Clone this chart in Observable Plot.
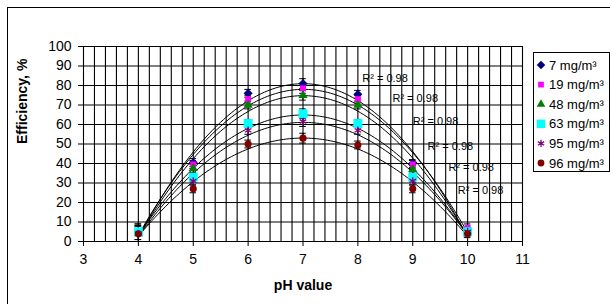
<!DOCTYPE html>
<html>
<head>
<meta charset="utf-8">
<script src="https://cdn.jsdelivr.net/npm/d3@7"></script>
<script src="https://cdn.jsdelivr.net/npm/@observablehq/plot@0.6"></script>
<style>
  html, body { margin: 0; padding: 0; background: #fff; }
  #chart { width: 610px; height: 304px; }
</style>
</head>
<body>
<div id="chart"></div>
<script>
// ---- data ----
const pH = [4, 5, 6, 7, 8, 9, 10];
const seriesNames = ["7 mg/m³", "19 mg/m³", "48 mg/m³", "63 mg/m³", "95 mg/m³", "96 mg/m³"];
const eff7  = [4, 40.5, 76, 81, 75.5, 40, 5];
const eff19 = [5, 39.5, 73, 78.5, 73, 39.5, 7];
const eff48 = [4, 37.5, 70, 75, 70, 37, 5];
const eff63 = [5, 33, 60.5, 65.5, 60.5, 33, 5];
const eff95 = [4, 31, 57, 61.5, 57, 31, 5];
const eff96 = [4, 27, 50, 53, 49.5, 27, 4];
const errs  = [4, 2, 2, 2.5, 2, 2, 2];
const r2Labels = ["R² = 0.98", "R² = 0.98", "R² = 0.98", "R² = 0.98", "R² = 0.98", "R² = 0.98"];
const r2X = [8.08, 8.63, 9.0, 9.27, 9.65, 9.82];
const r2Y = [83.6, 73.3, 61.5, 48.7, 37.9, 26.2];
const xTicks = [3, 4, 5, 6, 7, 8, 9, 10, 11];
const yTicks = [0, 10, 20, 30, 40, 50, 60, 70, 80, 90, 100];

// ---- styles ----
const diamondSym = {draw(ctx, size) { const r = Math.sqrt(size / 2); ctx.moveTo(0, -r); ctx.lineTo(r, 0); ctx.lineTo(0, r); ctx.lineTo(-r, 0); ctx.closePath(); }};
const colors = ["#000080", "#ff00ff", "#008000", "#00ffff", "#800080", "#800000"];
const symbols = [diamondSym, d3.symbolSquare, d3.symbolTriangle, d3.symbolSquare, d3.symbolAsterisk, d3.symbolCircle];
const sizes = [40, 36, 36, 80, 40, 40];

const allSeries = [eff7, eff19, eff48, eff63, eff95, eff96];
const points = [];
allSeries.forEach((vals, s) => vals.forEach((v, i) => points.push({s, name: seriesNames[s], x: pH[i], y: v, e: errs[i]})));

// quadratic least-squares trendlines (as the spreadsheet does)
function quadFit(xs, ys) {
  let n = xs.length, S = [0,0,0,0,0], T = [0,0,0];
  for (let i = 0; i < n; i++) {
    const x = xs[i], y = ys[i];
    for (let k = 0; k < 5; k++) S[k] += Math.pow(x, k);
    for (let k = 0; k < 3; k++) T[k] += y * Math.pow(x, k);
  }
  const A = [[S[0], S[1], S[2], T[0]], [S[1], S[2], S[3], T[1]], [S[2], S[3], S[4], T[2]]];
  for (let c = 0; c < 3; c++) {
    for (let r = c + 1; r < 3; r++) {
      const f = A[r][c] / A[c][c];
      for (let k = c; k < 4; k++) A[r][k] -= f * A[c][k];
    }
  }
  const b = [0,0,0];
  for (let r = 2; r >= 0; r--) {
    let s = A[r][3];
    for (let k = r + 1; k < 3; k++) s -= A[r][k] * b[k];
    b[r] = s / A[r][r];
  }
  return x => b[0] + b[1] * x + b[2] * x * x;
}
const curves = [];
allSeries.forEach((vals, s) => {
  const f = quadFit(pH, vals);
  for (let x = pH[0]; x <= pH[pH.length - 1] + 1e-9; x += 0.05) curves.push({s, x, y: f(x)});
});
const labels = r2Labels.map((t, i) => ({t, x: r2X[i], y: r2Y[i]}));

const font = "'Liberation Sans', Arial, sans-serif";

const chart = Plot.plot({
  width: 610,
  height: 304,
  marginLeft: 83,
  marginRight: 88,
  marginTop: 46,
  marginBottom: 63,
  style: {fontFamily: font, fontSize: "14px", color: "#000", background: "#fff"},
  x: {domain: [3, 11], ticks: xTicks, tickSize: 5, tickPadding: 8, label: null},
  y: {domain: [0, 100], ticks: yTicks, tickSize: 5, tickPadding: 7, label: null},
  marks: [
    Plot.ruleX(d3.range(3, 11.001, 0.2), {stroke: "#000", strokeWidth: 1.1}),
    Plot.ruleY(yTicks, {stroke: "#000", strokeWidth: 1.1}),
    Plot.line(curves, {x: "x", y: "y", z: "s", stroke: "#000", strokeWidth: 1, curve: "linear"}),
    Plot.ruleX(points, {x: "x", y1: d => d.y - d.e, y2: d => d.y + d.e, stroke: "#000", strokeWidth: 1}),
    Plot.ruleY(points, {y: d => d.y - d.e, x1: d => d.x - 0.06, x2: d => d.x + 0.06, stroke: "#000", strokeWidth: 1}),
    Plot.ruleY(points, {y: d => d.y + d.e, x1: d => d.x - 0.06, x2: d => d.x + 0.06, stroke: "#000", strokeWidth: 1}),
    ...allSeries.map((vals, s) => Plot.dot(points.filter(p => p.s === s), {
      x: "x", y: "y",
      symbol: symbols[s],
      r: Math.sqrt(sizes[s] / Math.PI),
      fill: s === 4 ? "none" : colors[s],
      stroke: s === 4 ? colors[s] : "none",
      strokeWidth: 1.3
    })),
    Plot.text(labels, {x: "x", y: "y", text: "t", textAnchor: "start", fontSize: 11, fill: "#000"}),
    Plot.axisX({ticks: xTicks, tickSize: 5, tickPadding: 8, label: null, fontSize: 14}),
    Plot.axisY({ticks: yTicks, tickSize: 5, tickPadding: 7, label: null, fontSize: 14}),
    Plot.text(["pH value"], {frameAnchor: "bottom", dy: 48, fontWeight: "bold", fontSize: 14}),
    Plot.text(["Efficiency, %"], {frameAnchor: "left", dx: -61, rotate: -90, fontWeight: "bold", fontSize: 14})
  ]
});

document.getElementById("chart").appendChild(chart);

// outer chart border and legend
const svg = d3.select(chart);
svg.insert("rect", ":first-child")
  .attr("x", 7.5).attr("y", 7.5).attr("width", 610).attr("height", 310)
  .attr("fill", "none").attr("stroke", "#000").attr("stroke-width", 1);

const lg = svg.append("g").attr("font-family", font).attr("font-size", 13).attr("text-anchor", "start");
lg.append("rect").attr("x", 533.5).attr("y", 52.5).attr("width", 76).attr("height", 119)
  .attr("fill", "#fff").attr("stroke", "#000");
seriesNames.forEach((n, i) => {
  const yy = 65 + i * 19.6;
  lg.append("path")
    .attr("d", d3.symbol(symbols[i], sizes[i] * 0.9)())
    .attr("transform", `translate(541,${yy})`)
    .attr("fill", i === 4 ? "none" : colors[i])
    .attr("stroke", i === 4 ? colors[i] : "none")
    .attr("stroke-width", 1.3);
  lg.append("text").attr("x", 549).attr("y", yy).attr("dy", "0.35em").attr("text-anchor", "start").text(n);
});
</script>
</body>
</html>
